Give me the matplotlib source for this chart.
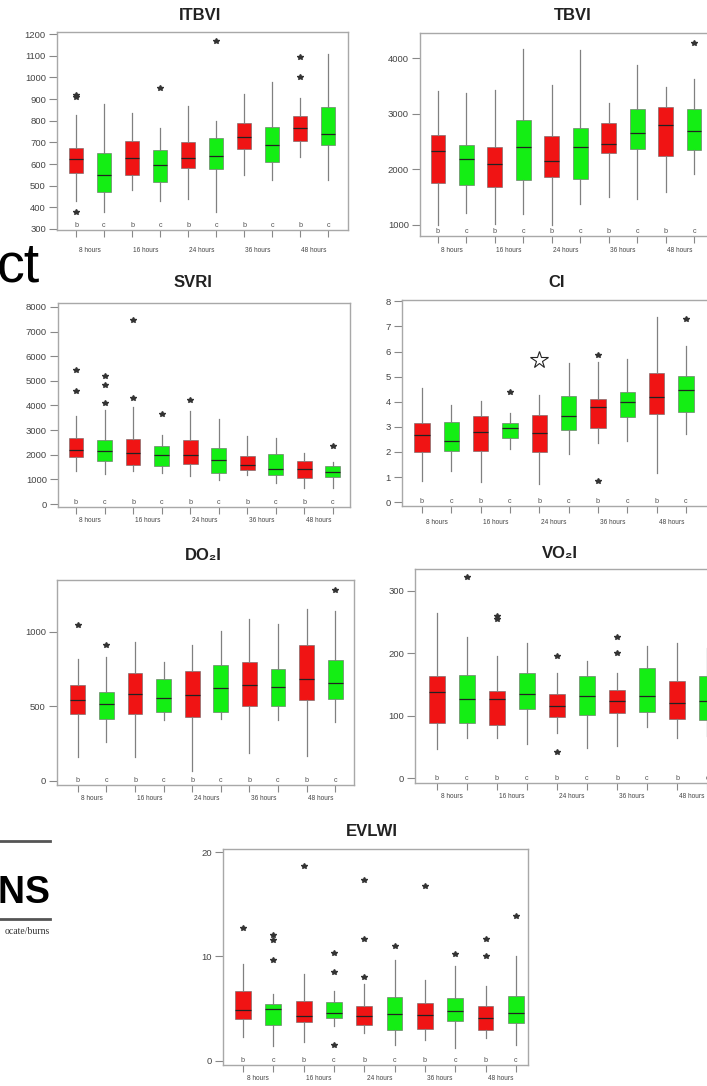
import matplotlib
matplotlib.use('Agg')
import matplotlib.pyplot as plt
from matplotlib.lines import Line2D

W, H = 707, 1086
RED = '#f01414'
GREEN = '#14ee14'

GROUPS = ['8 hours', '16 hours', '24 hours', '36 hours', '48 hours']
LETTERS = ['b', 'c'] * 5

# box stats per panel: whisker low, q1, median, q3, whisker high, outliers
ITBVI_LO = [430, 380, 480, 430, 440, 380, 548, 525, 632, 525]
ITBVI_Q1 = [558, 470, 550, 518, 582, 578, 668, 610, 708, 688]
ITBVI_MED = [625, 550, 630, 595, 630, 638, 725, 690, 765, 740]
ITBVI_Q3 = [672, 650, 705, 665, 700, 718, 790, 770, 820, 865]
ITBVI_HI = [825, 875, 835, 765, 870, 800, 925, 980, 905, 1110]
ITBVI_OUT = [[920, 910, 380], [], [], [950], [], [1170], [], [], [1000, 1095], []]

TBVI_LO = [1000, 1216, 1024, 1204, 990, 1383, 1503, 1461, 1593, 1922]
TBVI_Q1 = [1754, 1725, 1683, 1802, 1862, 1832, 2299, 2371, 2234, 2341]
TBVI_MED = [2323, 2192, 2102, 2401, 2144, 2401, 2449, 2653, 2790, 2683]
TBVI_Q3 = [2623, 2431, 2401, 2880, 2593, 2749, 2832, 3090, 3120, 3090]
TBVI_HI = [3407, 3371, 3431, 4168, 3521, 4138, 3192, 3880, 3479, 3629]
TBVI_OUT = [[], [], [], [], [], [], [], [], [], [4269]]

SVRI_LO = [1329, 1231, 1330, 1258, 1150, 988, 1190, 853, 650, 650]
SVRI_Q1 = [1897, 1735, 1600, 1532, 1627, 1258, 1367, 1163, 1055, 1096]
SVRI_MED = [2208, 2141, 2073, 1979, 2006, 1800, 1597, 1434, 1434, 1299]
SVRI_Q3 = [2682, 2614, 2655, 2344, 2614, 2276, 1962, 2030, 1735, 1532]
SVRI_HI = [3562, 3832, 3950, 2818, 3765, 3453, 2750, 2682, 2073, 1700]
SVRI_OUT = [[5456, 4576], [5212, 4847, 4103], [4306, 7486], [3670], [4211],
            [], [], [], [], [2371]]

CI_LO = [0.86, 1.25, 0.79, 2.10, 0.72, 1.91, 2.37, 2.43, 1.16, 2.70]
CI_Q1 = [2.00, 2.04, 2.04, 2.54, 2.00, 2.87, 2.96, 3.38, 3.51, 3.58]
CI_MED = [2.67, 2.43, 2.79, 2.97, 2.76, 3.42, 3.79, 3.99, 4.17, 4.47]
CI_Q3 = [3.16, 3.18, 3.42, 3.16, 3.49, 4.24, 4.11, 4.37, 5.16, 5.03]
CI_HI = [4.54, 3.88, 4.01, 3.55, 4.28, 5.55, 5.60, 5.72, 7.37, 6.21]
CI_OUT = [[], [], [], [4.38], [], [], [5.88, 0.84], [], [], [7.28]]
CI_STAR = (5, 5.65)

DO2I_LO = [163, 263, 158, 408, 69, 413, 185, 408, 167, 397]
DO2I_Q1 = [449, 413, 449, 464, 431, 464, 502, 502, 542, 547]
DO2I_MED = [542, 520, 587, 554, 580, 625, 643, 632, 683, 661]
DO2I_Q3 = [643, 594, 725, 683, 737, 777, 799, 750, 911, 815]
DO2I_HI = [821, 833, 933, 799, 911, 1004, 1089, 1051, 1156, 1141]
DO2I_OUT = [[1049], [915], [], [], [], [], [], [], [], [1279]]

VO2I_LO = [46, 64, 64, 55, 72, 48, 51, 82, 64, 67]
VO2I_Q1 = [88, 88, 85, 111, 98, 101, 104, 106, 94, 93]
VO2I_MED = [138, 127, 127, 135, 116, 132, 124, 132, 120, 123]
VO2I_Q3 = [163, 165, 140, 168, 135, 163, 141, 177, 155, 164]
VO2I_HI = [264, 226, 196, 217, 168, 187, 168, 211, 217, 209]
VO2I_OUT = [[], [322], [259, 255], [], [196, 41], [], [226, 201], [], [], []]

EVLWI_LO = [2.33, 1.44, 1.76, 3.29, 2.65, 1.53, 2.01, 1.21, 2.17, 1.53]
EVLWI_Q1 = [3.99, 3.45, 3.71, 4.09, 3.45, 2.97, 3.07, 3.83, 2.91, 3.67]
EVLWI_MED = [4.89, 4.98, 4.31, 4.57, 4.31, 4.47, 4.35, 4.73, 4.09, 4.57]
EVLWI_Q3 = [6.65, 5.46, 5.75, 5.59, 5.21, 6.07, 5.53, 6.01, 5.30, 6.23]
EVLWI_HI = [9.30, 6.39, 8.34, 6.65, 7.40, 9.70, 7.76, 9.04, 7.19, 10.06]
EVLWI_OUT = [[12.7], [12.08, 11.6, 9.68], [18.7], [10.38, 8.56, 1.47],
             [17.35, 11.66, 7.99], [11.05], [16.77], [10.26], [11.69, 10.06], [13.9]]


def panel(fig, rect, lo, q1, med, q3, hi, out, xlim, ylim, yticks, label_y):
    l, t, r, b = rect
    ax = fig.add_axes([l / W, 1 - b / H, (r - l) / W, (b - t) / H])
    stats = []
    for i in range(10):
        stats.append(dict(whislo=lo[i], q1=q1[i], med=med[i], q3=q3[i],
                          whishi=hi[i], fliers=out[i]))
    bp = ax.bxp(stats, positions=range(1, 11), widths=0.52, patch_artist=True,
                showcaps=False,
                boxprops=dict(edgecolor='#666666', linewidth=0.4),
                medianprops=dict(color='#222222', linewidth=0.9),
                whiskerprops=dict(color='#808080', linewidth=0.9),
                flierprops=dict(marker='*', markersize=3.8, markerfacecolor='#333333',
                                markeredgecolor='#333333', linestyle='none'))
    for i, box in enumerate(bp['boxes']):
        box.set_facecolor(RED if i % 2 == 0 else GREEN)

    ax.set_xlim(*xlim)
    ax.set_ylim(*ylim)
    ax.set_yticks(yticks)
    ax.set_yticklabels([str(v) for v in yticks])
    ax.set_xticks(range(1, 11))
    ax.set_xticklabels([])
    ax.tick_params(axis='y', labelsize=6.8, labelcolor='#444444', color='#888888',
                   length=6, width=0.8, pad=2)
    ax.tick_params(axis='x', color='#888888', length=5, width=0.8)
    for s in ax.spines.values():
        s.set_color('#a8a8a8')
        s.set_linewidth(1.0)

    for i, letter in enumerate(LETTERS):
        ax.annotate(letter, xy=(i + 1, 0), xycoords=('data', 'axes fraction'),
                    xytext=(0, 0.5), textcoords='offset points', ha='center',
                    va='bottom', fontsize=5.2, color='#555555', annotation_clip=False)
    for k, g in enumerate(GROUPS):
        ax.annotate(g, xy=(2 * k + 1.5, 0), xycoords=('data', 'axes fraction'),
                    xytext=(0, -(label_y - b) * 0.72), textcoords='offset points',
                    ha='center', va='center', fontsize=4.7, color='#444444',
                    annotation_clip=False)
    return ax


def title(fig, x, y, s):
    fig.text(x / W, 1 - y / H, s, ha='center', va='center', fontsize=12,
             fontweight='bold', color='#222222')


def main():
    plt.rcParams['font.family'] = ['Liberation Sans', 'DejaVu Sans']
    fig = plt.figure(figsize=(W / 100, H / 100), dpi=100)

    panel(fig, (57, 32, 348, 230), ITBVI_LO, ITBVI_Q1, ITBVI_MED, ITBVI_Q3, ITBVI_HI,
          ITBVI_OUT, (0.32, 10.71), (295, 1210), list(range(300, 1201, 100)), 250)
    title(fig, 200, 15, 'ITBVI')

    panel(fig, (420, 33, 712, 236), TBVI_LO, TBVI_Q1, TBVI_MED, TBVI_Q3, TBVI_HI,
          TBVI_OUT, (0.37, 10.63), (800, 4450), [1000, 2000, 3000, 4000], 250)
    title(fig, 573, 15, 'TBVI')

    panel(fig, (58, 303, 350, 507), SVRI_LO, SVRI_Q1, SVRI_MED, SVRI_Q3, SVRI_HI,
          SVRI_OUT, (0.37, 10.6), (-120, 8160), list(range(0, 8001, 1000)), 521)
    title(fig, 193, 283, 'SVRI')

    ax = panel(fig, (402, 300, 712, 506), CI_LO, CI_Q1, CI_MED, CI_Q3, CI_HI,
               CI_OUT, (0.32, 10.89), (-0.15, 8.05), list(range(0, 9)), 522)
    ax.plot(*CI_STAR, marker='*', markersize=13, markerfacecolor='white',
            markeredgecolor='#222222', markeredgewidth=0.8, linestyle='none')
    title(fig, 557, 283, 'CI')

    panel(fig, (57, 580, 354, 785), DO2I_LO, DO2I_Q1, DO2I_MED, DO2I_Q3, DO2I_HI,
          DO2I_OUT, (0.27, 10.66), (-27, 1349), [0, 500, 1000], 798)
    title(fig, 203, 555, 'DO₂I')

    panel(fig, (415, 569, 729, 783), VO2I_LO, VO2I_Q1, VO2I_MED, VO2I_Q3, VO2I_HI,
          VO2I_OUT, (0.27, 10.73), (-8, 335), [0, 100, 200, 300], 797)
    title(fig, 560, 553, 'VO₂I')

    panel(fig, (223, 849, 528, 1065), EVLWI_LO, EVLWI_Q1, EVLWI_MED, EVLWI_Q3, EVLWI_HI,
          EVLWI_OUT, (0.34, 10.4), (-0.4, 20.3), [0, 10, 20], 1078)
    title(fig, 372, 832, 'EVLWI')

    # bits of the surrounding page that show at the left edge
    fig.text(40 / W, 1 - 282 / H, 'ct', ha='right', va='baseline', fontsize=40,
             color='black')
    fig.add_artist(Line2D([0, 50 / W], [1 - 841 / H] * 2, color='#555555', lw=2))
    fig.add_artist(Line2D([0, 50 / W], [1 - 919 / H] * 2, color='#555555', lw=2))
    fig.text(50 / W, 1 - 903 / H, 'RNS', ha='right', va='baseline', fontsize=27,
             fontweight='bold', color='black')
    fig.text(50 / W, 1 - 934 / H, 'ocate/burns', ha='right', va='baseline',
             fontsize=7, family='Liberation Serif', color='#333333')

    fig.savefig('out.png', dpi=100)


if __name__ == "__main__":
    main()
